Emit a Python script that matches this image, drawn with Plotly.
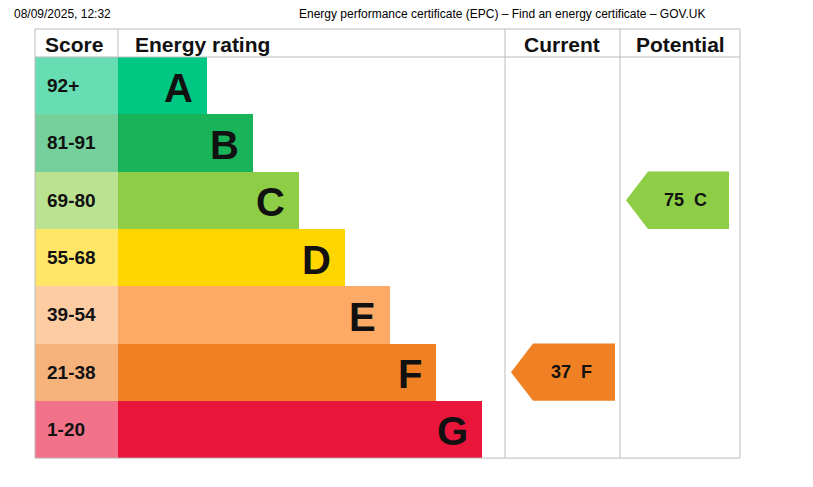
import plotly.graph_objects as go

# EPC bands
bands = ["92+", "81-91", "69-80", "55-68", "39-54", "21-38", "1-20"]
letters = ["A", "B", "C", "D", "E", "F", "G"]
bar_lengths = [89, 135, 181, 227, 272, 318, 364]
bar_colors = ["#00c781", "#19b459", "#8dce46", "#ffd500", "#fcaa65", "#ef8023", "#e9153b"]
score_colors = ["#66ddb3", "#75d09b", "#bbe291", "#ffe666", "#fdcca3", "#f5b37b", "#f27389"]
current_score, current_letter = 37, "F"
potential_score, potential_letter = 75, "C"

W, H = 813, 487
off = 8  # page body margin
left, score_w = 35, 83
top, head_h, row_h = 29, 28, 57.3
cur_x0, pot_x0, right = 505, 620, 740
bottom = top + head_h + row_h * len(bands)
font = "Liberation Sans, Arial, sans-serif"

def row_mid(i):
    return top + head_h + row_h * (i + 0.5)

fig = go.Figure()
mids = [row_mid(i) for i in range(len(bands))]

# score cells and rating bars
fig.add_trace(go.Bar(orientation="h", y=mids, x=[score_w] * len(bands), base=left,
                     width=row_h, marker=dict(color=score_colors, line_width=0),
                     hoverinfo="skip"))
fig.add_trace(go.Bar(orientation="h", y=mids, x=bar_lengths, base=left + score_w,
                     width=row_h, marker=dict(color=bar_colors, line_width=0),
                     hoverinfo="skip"))

ann = []
for i, b in enumerate(bands):
    ann.append(dict(x=left + 10, y=mids[i], text="<b>%s</b>" % b, xanchor="left",
                    showarrow=False, font=dict(size=19, color="#111", family=font)))
    ann.append(dict(x=left + score_w + bar_lengths[i] - 12, y=mids[i] + 2,
                    text="<b>%s</b>" % letters[i], xanchor="right", showarrow=False,
                    font=dict(size=40, color="#111", family=font)))

def arrow(x0, x1, score, letter):
    i = letters.index(letter)
    y = row_mid(i)
    h = row_h / 2
    xs = [x0, x0 + 22, x1, x1, x0 + 22, x0]
    ys = [y, y - h, y - h, y + h, y + h, y]
    fig.add_trace(go.Scatter(x=xs, y=ys, fill="toself", mode="lines",
                             fillcolor=bar_colors[i], line=dict(width=0),
                             hoverinfo="skip"))
    ann.append(dict(x=(x0 + x1) / 2 + 8, y=y, text="<b>%d  %s</b>" % (score, letter),
                    showarrow=False, font=dict(size=18, color="#111", family=font)))

arrow(511, 615, current_score, current_letter)
arrow(626, 729, potential_score, potential_letter)

# headers
for x, t in [(left + 8, "Score"), (left + score_w + 15, "Energy rating"),
             (cur_x0 + 17, "Current"), (pot_x0 + 14, "Potential")]:
    ann.append(dict(x=x, y=top + head_h / 2 + 1, text="<b>%s</b>" % t, xanchor="left",
                    showarrow=False, font=dict(size=21, color="#111", family=font)))
ann.append(dict(x=12, y=14, text="08/09/2025, 12:32", xanchor="left", showarrow=False,
                font=dict(size=12, color="#000", family=font)))
ann.append(dict(x=502, y=14, text="Energy performance certificate (EPC) – Find an energy certificate – GOV.UK",
                showarrow=False, font=dict(size=12, color="#000", family=font)))

grid = dict(color="#bbbbbb", width=1)
shapes = [
    dict(type="rect", x0=left, x1=right, y0=top, y1=bottom, line=grid),
    dict(type="line", x0=left, x1=right, y0=top + head_h, y1=top + head_h, line=grid),
    dict(type="line", x0=left + score_w, x1=left + score_w, y0=top, y1=top + head_h, line=grid),
    dict(type="line", x0=cur_x0, x1=cur_x0, y0=top, y1=bottom, line=grid),
    dict(type="line", x0=pot_x0, x1=pot_x0, y0=top, y1=bottom, line=grid),
]

fig.update_layout(width=W, height=H, margin=dict(l=0, r=0, t=0, b=0),
                  plot_bgcolor="white", paper_bgcolor="white", showlegend=False,
                  barmode="overlay", bargap=0, annotations=ann, shapes=shapes,
                  xaxis=dict(range=[off, W + off], visible=False, fixedrange=True),
                  yaxis=dict(range=[H + off, off], visible=False, fixedrange=True))
fig.write_html("out.html", config={"displayModeBar": False})
